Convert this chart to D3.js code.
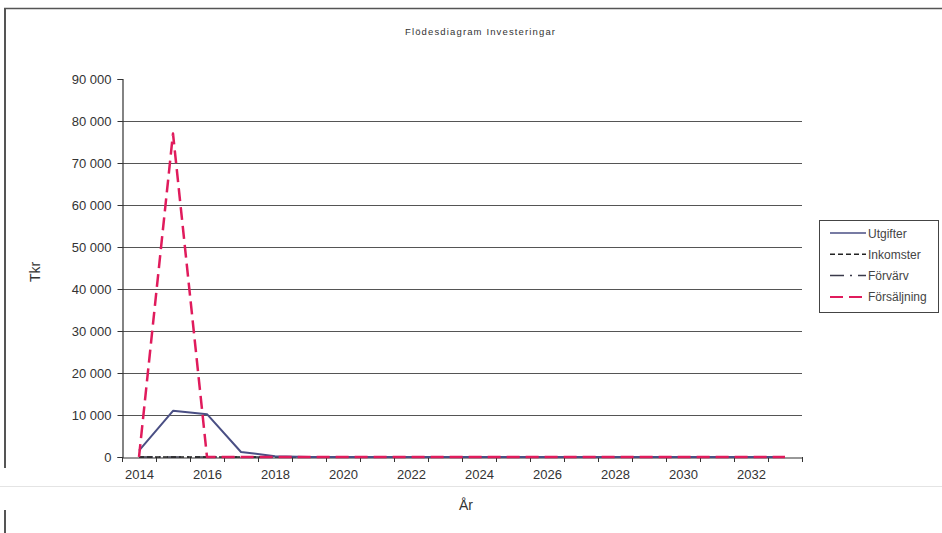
<!DOCTYPE html>
<html>
<head>
<meta charset="utf-8">
<script src="https://cdn.jsdelivr.net/npm/d3@7"></script>
<style>
  html, body { margin: 0; padding: 0; background: #fff; }
  svg { display: block; }
  text { font-family: "Liberation Sans", Arial, sans-serif; }
</style>
</head>
<body>
<svg id="chart" width="942" height="533"></svg>
<script>
// Investment cash flow per year (Tkr)
const years = d3.range(2014, 2034);
const utgifter    = [1500, 11000, 10200, 1200, 200, 0, 0, 0, 0, 0, 0, 0, 0, 0, 0, 0, 0, 0, 0, 0];
const inkomster   = [0, 0, 0, 0, 0, 0, 0, 0, 0, 0, 0, 0, 0, 0, 0, 0, 0, 0, 0, 0];
const forvarv     = [0, 0, 0, 0, 0, 0, 0, 0, 0, 0, 0, 0, 0, 0, 0, 0, 0, 0, 0, 0];
const forsaljning = [0, 77000, 0, 0, 0, 0, 0, 0, 0, 0, 0, 0, 0, 0, 0, 0, 0, 0, 0, 0];
const yTicks = [0, 10000, 20000, 30000, 40000, 50000, 60000, 70000, 80000, 90000];
const xLabelYears = years.filter((d, i) => i % 2 === 0);

const series = [
  { name: "Utgifter",    values: utgifter,    color: "#4a4f84", dash: null,       width: 2 },
  { name: "Inkomster",   values: inkomster,   color: "#222222", dash: "5,3",      width: 1.5 },
  { name: "Förvärv",     values: forvarv,     color: "#3a3a4a", dash: "14,6,2,6", width: 1.5 },
  { name: "Försäljning", values: forsaljning, color: "#e01b5c", dash: "13,6",     width: 2.5 }
];

const svg = d3.select("#chart");
const plot = { left: 122, right: 802, top: 79, bottom: 457 };

// chart frame edges
const frame = svg.append("g").attr("stroke", "#555").attr("fill", "none");
frame.append("line").attr("x1", 4).attr("x2", 942).attr("y1", 8.5).attr("y2", 8.5).attr("stroke-width", 1.5);
frame.append("line").attr("x1", 5).attr("x2", 5).attr("y1", 8).attr("y2", 468).attr("stroke-width", 2);
frame.append("line").attr("x1", 5).attr("x2", 5).attr("y1", 510).attr("y2", 533).attr("stroke-width", 2);
svg.append("line").attr("x1", 0).attr("x2", 942).attr("y1", 486.5).attr("y2", 486.5)
  .attr("stroke", "#e4e4e4").attr("stroke-width", 1);

// title
svg.append("text").attr("x", 480).attr("y", 35).attr("text-anchor", "middle")
  .attr("font-size", 9.5).attr("fill", "#333").attr("textLength", 150)
  .text("Flödesdiagram Investeringar");

const x = d3.scalePoint().domain(years).range([plot.left, plot.right]).padding(0.5);
const xBand = d3.scaleBand().domain(years).range([plot.left, plot.right]);
const y = d3.scaleLinear().domain([0, 90000]).range([plot.bottom, plot.top]);

const fmt = d3.formatLocale({ decimal: ",", thousands: " ", grouping: [3] }).format(",d");

// horizontal gridlines
svg.append("g").selectAll("line")
  .data(yTicks.filter(t => t > 0 && t < 90000))
  .join("line")
  .attr("x1", plot.left).attr("x2", plot.right)
  .attr("y1", d => Math.round(y(d)) + 0.5).attr("y2", d => Math.round(y(d)) + 0.5)
  .attr("stroke", "#555").attr("stroke-width", 1);

// y axis
const yAxis = svg.append("g").attr("transform", `translate(${plot.left + 0.5},0)`)
  .call(d3.axisLeft(y).tickValues(yTicks).tickFormat(fmt).tickSize(5).tickPadding(6));
yAxis.select(".domain").attr("stroke", "#333").attr("stroke-width", 1.2);
yAxis.selectAll(".tick line").attr("stroke", "#333");
yAxis.selectAll(".tick text").attr("font-size", 13).attr("fill", "#333")
  .attr("font-family", "Liberation Sans, Arial, sans-serif");

// x axis: labels at every other year, tick marks at category boundaries
const xAxis = svg.append("g").attr("transform", `translate(0,${plot.bottom + 0.5})`)
  .call(d3.axisBottom(x).tickValues(xLabelYears).tickSize(0).tickPadding(12));
xAxis.select(".domain").attr("stroke", "#333").attr("stroke-width", 1.2);
xAxis.selectAll(".tick text").attr("font-size", 13).attr("fill", "#333")
  .attr("font-family", "Liberation Sans, Arial, sans-serif");
svg.append("g").selectAll("line")
  .data(years.map(d => xBand(d)).concat([plot.right]))
  .join("line")
  .attr("x1", d => Math.round(d) + 0.5).attr("x2", d => Math.round(d) + 0.5)
  .attr("y1", plot.bottom).attr("y2", plot.bottom + 5)
  .attr("stroke", "#333");

// axis titles
svg.append("text").attr("transform", "translate(40,272) rotate(-90)")
  .attr("text-anchor", "middle").attr("font-size", 14).attr("fill", "#333").text("Tkr");
svg.append("text").attr("x", 466).attr("y", 510)
  .attr("text-anchor", "middle").attr("font-size", 14).attr("fill", "#333").text("År");

// series lines
const line = d3.line().x((d, i) => x(years[i])).y(d => y(d));
svg.append("g").selectAll("path")
  .data(series.slice().reverse().filter(s => s.name !== "Försäljning").concat(series.filter(s => s.name === "Försäljning")))
  .join("path")
  .attr("d", s => line(s.values))
  .attr("fill", "none")
  .attr("stroke", s => s.color)
  .attr("stroke-width", s => s.width)
  .attr("stroke-dasharray", s => s.dash)
  .attr("stroke-linejoin", "round");

// legend
const legend = svg.append("g");
legend.append("rect").attr("x", 819.5).attr("y", 220.5).attr("width", 119).attr("height", 92)
  .attr("fill", "#fff").attr("stroke", "#444").attr("stroke-width", 1);
const rows = legend.selectAll("g.row").data(series).join("g")
  .attr("class", "row")
  .attr("transform", (d, i) => `translate(0,${233 + i * 21.3})`);
rows.append("line").attr("x1", 830).attr("x2", 866).attr("y1", 0).attr("y2", 0)
  .attr("stroke", d => d.color)
  .attr("stroke-width", d => d.name === "Försäljning" ? 2 : 1.5)
  .attr("stroke-dasharray", d => d.dash);
rows.append("text").attr("x", 868).attr("y", 4.5)
  .attr("font-size", 12).attr("fill", "#444").text(d => d.name);
</script>
</body>
</html>
